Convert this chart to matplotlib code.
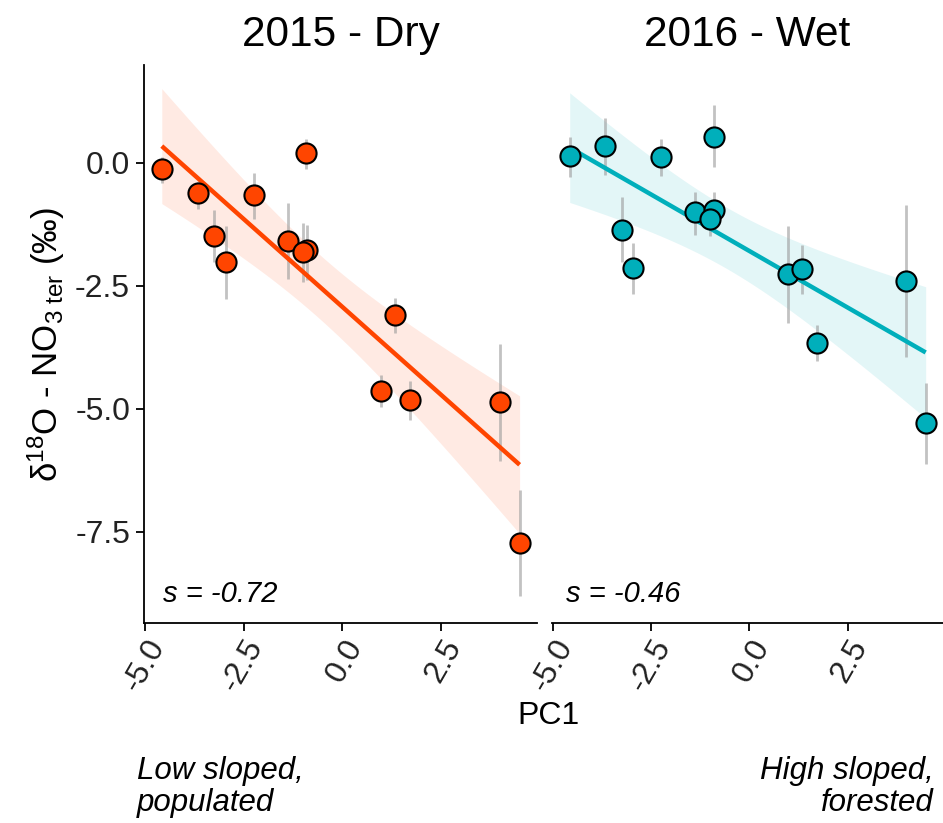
import numpy as np
import matplotlib
matplotlib.use("Agg")
import matplotlib.pyplot as plt

plt.rcParams['font.family'] = ['Liberation Sans', 'DejaVu Sans']
plt.rcParams['mathtext.fontset'] = 'custom'
plt.rcParams['mathtext.rm'] = 'Liberation Sans'
plt.rcParams['mathtext.it'] = 'Liberation Sans:italic'

# PC1 score of each site (shared by both years)
pc1 = [-4.57, -3.66, -3.24, -2.95, -2.25, -1.39, -0.91, -0.90, -1.01, 0.98, 1.34, 1.72, 3.99, 4.48]

# 2015 - Dry
d18o_2015 = [-0.13, -0.62, -1.48, -2.02, -0.66, -1.58, 0.19, -1.77, -1.82, -4.64, -3.10, -4.82, -4.87, -7.74]
hi_2015 = [0.11, -0.39, -0.96, -1.28, -0.20, -0.81, 0.49, -1.27, -1.22, -4.32, -2.74, -4.43, -3.68, -6.65]
lo_2015 = [-0.41, -0.93, -2.01, -2.76, -1.14, -2.36, -0.13, -2.38, -2.42, -4.96, -3.47, -5.23, -6.06, -8.82]

# 2016 - Wet
d18o_2016 = [0.14, 0.35, -1.36, -2.14, 0.11, -1.01, 0.53, -0.96, -1.14, -2.27, -2.16, -3.66, -2.40, -5.30]
hi_2016 = [0.52, 0.91, -0.70, -1.64, 0.48, -0.59, 1.17, -0.60, -0.80, -1.28, -1.67, -3.30, -0.86, -4.48]
lo_2016 = [-0.28, -0.24, -2.01, -2.66, -0.27, -1.47, -0.09, -1.35, -1.48, -3.25, -2.67, -4.04, -3.94, -6.12]

titles = ['2015 - Dry', '2016 - Wet']
slopes = ['s = -0.72', 's = -0.46']
colors = ['#FF4500', '#00AFBB']
x_ticks = [-5.0, -2.5, 0.0, 2.5]
x_tick_labels = ['-5.0', '-2.5', '0.0', '2.5']
y_ticks = [0.0, -2.5, -5.0, -7.5]
y_tick_labels = ['0.0', '-2.5', '-5.0', '-7.5']

T975 = 2.179  # t quantile, df = 12


def lm_band(x, y, xs):
    x = np.asarray(x)
    y = np.asarray(y)
    b, a = np.polyfit(x, y, 1)
    resid = y - (a + b * x)
    n = len(x)
    se = np.sqrt(np.sum(resid ** 2) / (n - 2))
    sxx = np.sum((x - x.mean()) ** 2)
    fit = a + b * xs
    half = T975 * se * np.sqrt(1.0 / n + (xs - x.mean()) ** 2 / sxx)
    return fit, fit - half, fit + half


fig = plt.figure(figsize=(9.43, 8.23), dpi=100)
W, H = 943, 823
bottom, top = 623, 65
panels = [(144, 537), (552, 943)]
series = [(d18o_2015, hi_2015, lo_2015), (d18o_2016, hi_2016, lo_2016)]
slope_x = [0.048, 0.036]

for i, ((x0, x1), (yv, hi, lo)) in enumerate(zip(panels, series)):
    ax = fig.add_axes([x0 / W, 1 - bottom / H, (x1 - x0) / W, (bottom - top) / H])
    col = colors[i]
    xs = np.linspace(min(pc1), max(pc1), 100)
    fit, low, upp = lm_band(pc1, yv, xs)
    ax.fill_between(xs, low, upp, color=col, alpha=0.11, lw=0, zorder=1)
    ax.vlines(pc1, lo, hi, color='#9a9a9a', alpha=0.6, lw=2.0, zorder=2)
    ax.plot(xs, fit, color=col, lw=3.2, zorder=3, solid_capstyle='butt')
    ax.scatter(pc1, yv, s=210, facecolor=col, edgecolor='black', linewidth=1.5, zorder=4)

    ax.set_xlim(-5.02, 4.92)
    ax.set_ylim(-9.36, 1.99)
    ax.set_xticks(x_ticks)
    ax.set_xticklabels(x_tick_labels, rotation=60, ha='right', va='top',
                       rotation_mode='anchor', fontsize=23, color='#222222')
    ax.tick_params(axis='x', length=6, width=1.3, pad=2)
    for s in ['top', 'right']:
        ax.spines[s].set_visible(False)
    ax.spines['bottom'].set_linewidth(1.3)
    if i == 0:
        ax.set_yticks(y_ticks)
        ax.set_yticklabels(y_tick_labels, fontsize=23, color='#222222')
        ax.tick_params(axis='y', length=6, width=1.3, pad=4)
        ax.spines['left'].set_linewidth(1.3)
        ax.set_ylabel(r'δ$^{18}$O - NO$_{3\ \mathrm{ter}}$ (‰)', fontsize=25, labelpad=6)
    else:
        ax.spines['left'].set_visible(False)
        ax.set_yticks([])
    ax.text(slope_x[i], 0.052, slopes[i], transform=ax.transAxes, fontsize=21,
            style='italic', ha='left', va='center')
    ax.set_title(titles[i], fontsize=30.5, pad=14)

fig.text(548 / W, 1 - 716 / H, 'PC1', fontsize=23, ha='center', va='center')
fig.text(137 / W, 1 - 787 / H, 'Low sloped,\npopulated', fontsize=22.5, style='italic',
         ha='left', va='center', linespacing=1.1)
fig.text(934 / W, 1 - 787 / H, 'High sloped,\nforested', fontsize=22.5, style='italic',
         ha='right', va='center', linespacing=1.1, multialignment='right')

fig.savefig('out.png', dpi=100)
plt.close(fig)
